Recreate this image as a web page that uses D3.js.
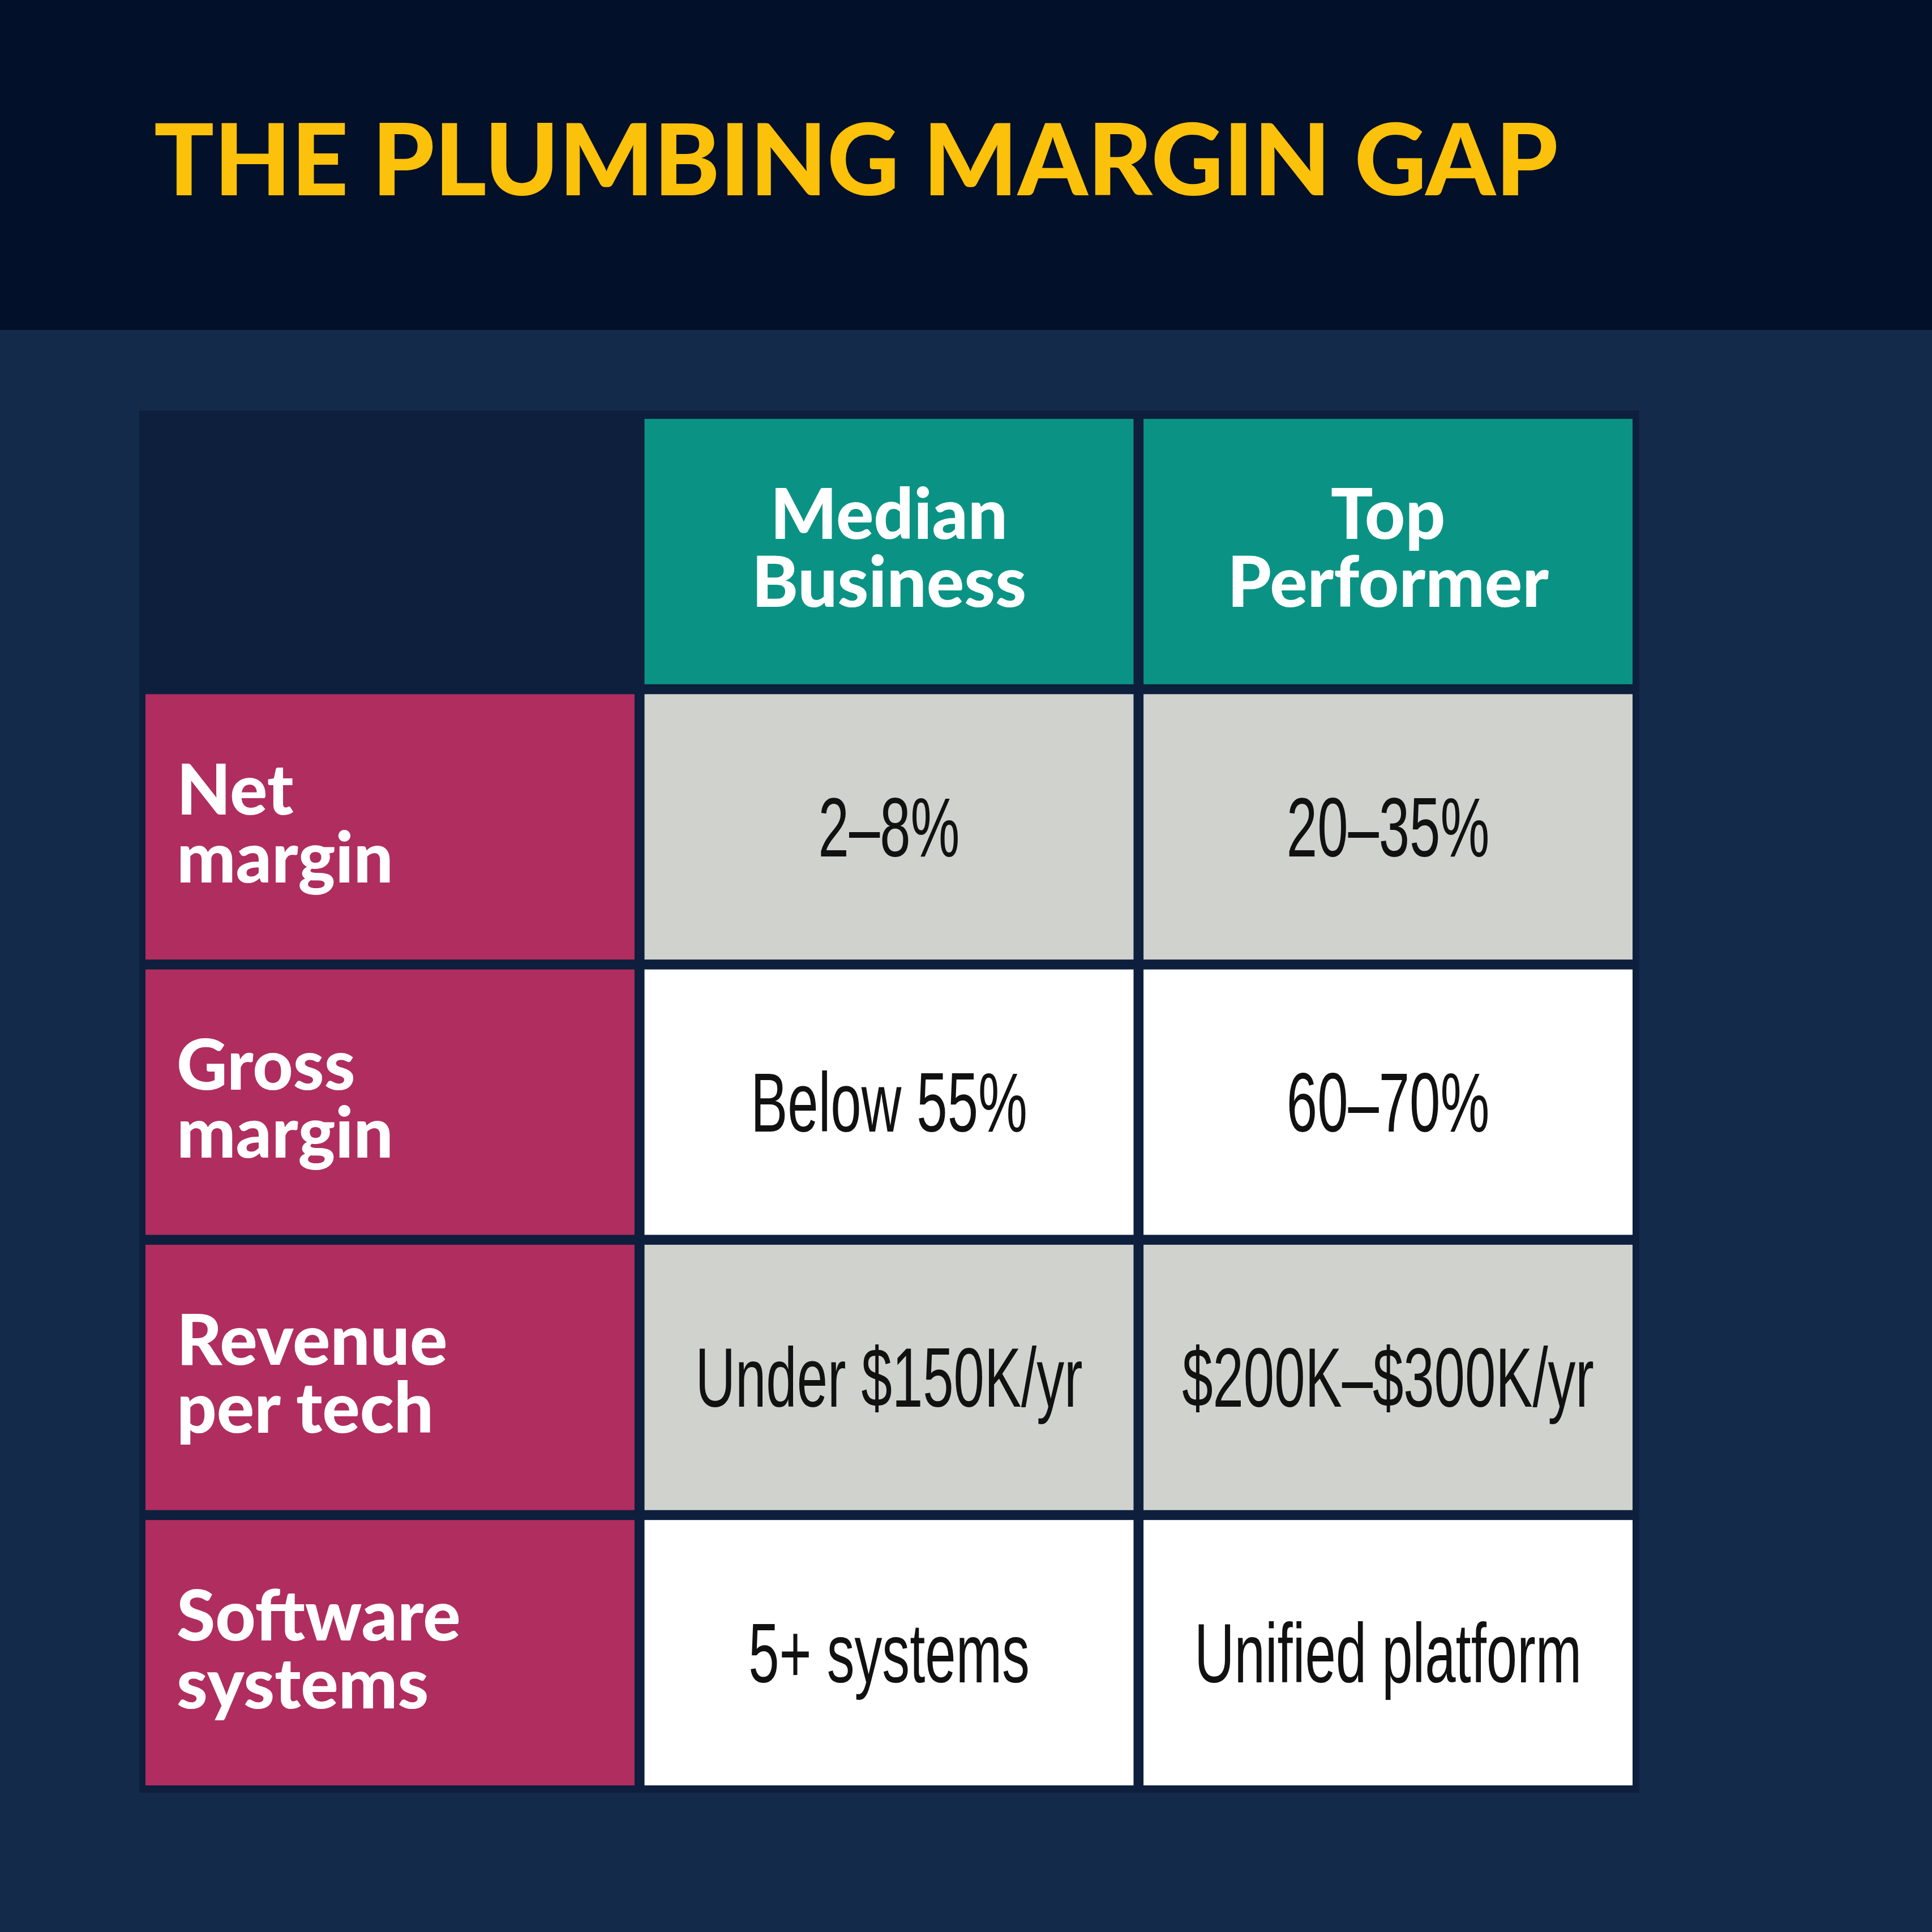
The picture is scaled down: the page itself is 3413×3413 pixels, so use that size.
<!DOCTYPE html>
<html><head><meta charset="utf-8">
<script src="https://cdn.jsdelivr.net/npm/d3@7"></script>
<style>html,body{margin:0;padding:0;background:#142a4a;}</style>
</head><body>
<script>
const title = "THE PLUMBING MARGIN GAP";
const columns = [["Median","Business"],["Top","Performer"]];
const rowLabels = [["Net","margin"],["Gross","margin"],["Revenue","per tech"],["Software","systems"]];
const medianValues = ["2–8%","Below 55%","Under $150K/yr","5+ systems"];
const topValues = ["20–35%","60–70%","$200K–$300K/yr","Unified platform"];
const rowFills = ["#d0d2ce","#ffffff","#d0d2ce","#ffffff"];

const W=3413,H=3413;
const svg=d3.select("body").append("svg").attr("width",W).attr("height",H);
svg.append("rect").attr("width",W).attr("height",H).attr("fill","#142a4a");
svg.append("rect").attr("width",W).attr("height",583).attr("fill","#02102a");
svg.append("text").attr("x",272).attr("y",345).text(title)
  .attr("fill","#fcc10a").attr("font-family","Lato").attr("font-weight",900).attr("font-size",176);

svg.append("rect").attr("x",246).attr("y",725).attr("width",2650).attr("height",2442).attr("fill","#0d1f3d");

const x=d3.scaleBand().domain(["label","c0","c1"]).range([257,2884]).paddingInner(0.02);
const y=d3.scaleBand().domain(["head",0,1,2,3]).range([740,3154]).paddingInner(0.036);
const hf="Lato";
columns.forEach((c,i)=>{
  const k="c"+i;
  svg.append("rect").attr("x",x(k)).attr("y",y("head")).attr("width",x.bandwidth()).attr("height",y.bandwidth()).attr("fill","#0a9384");
  c.forEach((l,j)=>svg.append("text").attr("x",x(k)+x.bandwidth()/2).attr("y",y("head")+y.bandwidth()/2-22+j*120)
    .attr("text-anchor","middle").attr("fill","#fff").attr("font-family",hf).attr("font-weight",900).attr("font-size",124).text(l));
});
rowLabels.forEach((r,i)=>{
  svg.append("rect").attr("x",x("label")).attr("y",y(i)).attr("width",x.bandwidth()).attr("height",y.bandwidth()).attr("fill","#b02d5f");
  r.forEach((l,j)=>svg.append("text").attr("x",x("label")+55).attr("y",y(i)+y.bandwidth()/2-22+j*120)
    .attr("fill","#fff").attr("font-family",hf).attr("font-weight",900).attr("font-size",124).text(l));
  [medianValues[i],topValues[i]].forEach((v,ci)=>{
    const k="c"+ci;
    svg.append("rect").attr("x",x(k)).attr("y",y(i)).attr("width",x.bandwidth()).attr("height",y.bandwidth()).attr("fill",rowFills[i]);
    const cx=x(k)+x.bandwidth()/2, cy=y(i)+y.bandwidth()/2+52;
    svg.append("text").attr("transform",`translate(${cx},${cy}) scale(0.66,1)`)
      .attr("text-anchor","middle").attr("fill","#111").attr("font-family","'Liberation Sans',sans-serif")
      .attr("font-size",148).text(v);
  });
});
</script>
</body></html>
